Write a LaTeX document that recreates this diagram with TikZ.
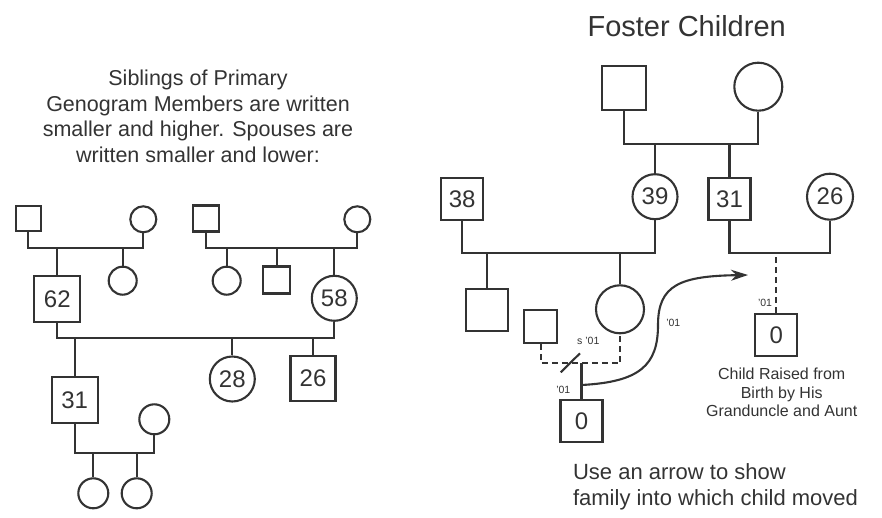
\documentclass[tikz,border=0pt]{standalone}
\usepackage{fontspec}
\setmainfont{Liberation Sans}
\usetikzlibrary{arrows.meta}

\tikzset{
  male/.style={draw, rectangle, minimum size=#1, inner sep=0pt},
  male/.default=42pt,
  female/.style={draw, circle, minimum size=#1, inner sep=0pt},
  female/.default=46pt,
  age/.style={font=\fontsize{24}{24}\selectfont},
  tag/.style={font=\fontsize{10.5}{11}\selectfont, inner sep=0pt},
  link/.style={dash pattern=on 6pt off 4pt}
}

\begin{document}
\begin{tikzpicture}[>=stealth, x=1pt, y=-1pt, line width=2.1pt, color=black!80]
\useasboundingbox (0,0) rectangle (882,518);

\node[align=center, font=\fontsize{21.5}{25.7}\selectfont] (note) at (198,116.3) {Siblings of Primary\\Genogram Members are written\\smaller and higher. Spouses are\\written smaller and lower:};

\node[male=25pt] (lgf1) at (28.3,218.5) {};
\node[female=26pt] (lgm1) at (143.3,219.3) {};
\node[male=46pt, age] (p62) at (57.3,298.8) {62};
\node[female=28pt] (lsis1) at (122.7,280.7) {};
\node[male=26pt] (lgf2) at (205.7,218.5) {};
\node[female=26pt] (lgm2) at (357.3,219.3) {};
\node[female=28pt] (lsis2) at (226.7,280.7) {};
\node[male=27pt] (lbro2) at (276.7,280) {};
\node[female=45pt, age] (p58) at (334.3,298.3) {58};
\node[female=45pt, age] (p28) at (232.3,379) {28};
\node[male=45pt, age] (p26) at (313,378.7) {26};
\node[male=46pt, age] (p31) at (74.7,400) {31};
\node[female=30pt] (w31) at (154.3,419.3) {};
\node[female=30pt] (gd1) at (93.3,493.3) {};
\node[female=30pt] (gd2) at (136.7,493.3) {};

\coordinate (barA) at (0,248.3);
\coordinate (barC) at (0,338.3);
\coordinate (barD) at (0,452.7);
\draw (lgf1) -- (lgf1 |- barA) -- (lgm1 |- barA) -- (lgm1);
\draw (p62) -- (p62 |- barA);
\draw (lsis1) -- (lsis1 |- barA);
\draw (lgf2) -- (lgf2 |- barA) -- (lgm2 |- barA) -- (lgm2);
\draw (lsis2) -- (lsis2 |- barA);
\draw (lbro2) -- (lbro2 |- barA);
\draw (p58) -- (p58 |- barA);
\draw (p62) -- (p62 |- barC) -- (p58 |- barC) -- (p58);
\draw (p31) -- (p31 |- barC);
\draw (p28) -- (p28 |- barC);
\draw (p26) -- (p26 |- barC);
\draw (p31) -- (p31 |- barD) -- (w31 |- barD) -- (w31);
\draw (gd1) -- (gd1 |- barD);
\draw (gd2) -- (gd2 |- barD);

\node[anchor=base, font=\fontsize{29}{29}\selectfont] (title) at (686.7,36.7) {Foster Children};

\node[male=44pt] (fgf) at (624.2,88.3) {};
\node[female=48pt] (fgm) at (758.3,86.7) {};
\node[male, age] (f38) at (462.2,199.2) {38};
\node[female=45pt, age] (f39) at (655,196.7) {39};
\node[male, age] (f31) at (729.5,199.2) {31};
\node[female=46pt, age] (f26) at (830,196.7) {26};
\node[male] (fson) at (487.2,309.8) {};
\node[female=48pt] (fdau) at (620,309.3) {};
\node[male=33pt] (fex) at (540.8,326.7) {};
\node[male, age] (fkid) at (581.5,420.8) {0};
\node[male, age] (fkid2) at (776.2,335) {0};

\coordinate (barE) at (0,144.3);
\coordinate (barF) at (0,253.3);
\coordinate (barH) at (0,363.3);
\draw (fgf) -- (fgf |- barE) -- (fgm |- barE) -- (fgm);
\draw (f39) -- (f39 |- barE);
\draw (f31) -- (f31 |- barE);
\draw (f38) -- (f38 |- barF) -- (f39 |- barF) -- (f39);
\draw (fson) -- (fson |- barF);
\draw (fdau) -- (fdau |- barF);
\draw (f31) -- (f31 |- barF) -- (f26 |- barF) -- (f26);
\draw[link] (fkid2) -- (fkid2 |- barF);
\draw[link] (fex) -- (fex |- barH) -- (fdau |- barH) -- (fdau);
\draw (fkid) -- (fkid |- barH);
\draw (560.7,372.3) -- (580,353.3);

\coordinate (mvA) at (581.5,385);
\coordinate (mvB) at (748,275);
\draw[-{Stealth[length=17pt,width=11pt]}] (mvA) .. controls (640,382) and (658,365) .. (658,325) .. controls (658,285) and (680,276) .. (mvB);

\node[tag] at (673.3,323.3) {'01};
\node[tag] at (765,302.7) {'01};
\node[tag] at (588.3,340.7) {s '01};
\node[tag] at (563.3,390) {'01};

\node[align=center, font=\fontsize{16}{18.3}\selectfont] (cap) at (781.7,392.5) {Child Raised from\\Birth by His\\Granduncle and Aunt};
\node[anchor=north west, inner sep=0pt, align=left, font=\fontsize{22}{26.7}\selectfont] (hint) at (572,462.3) {Use an arrow to show\\family into which child moved};

\end{tikzpicture}
\end{document}
